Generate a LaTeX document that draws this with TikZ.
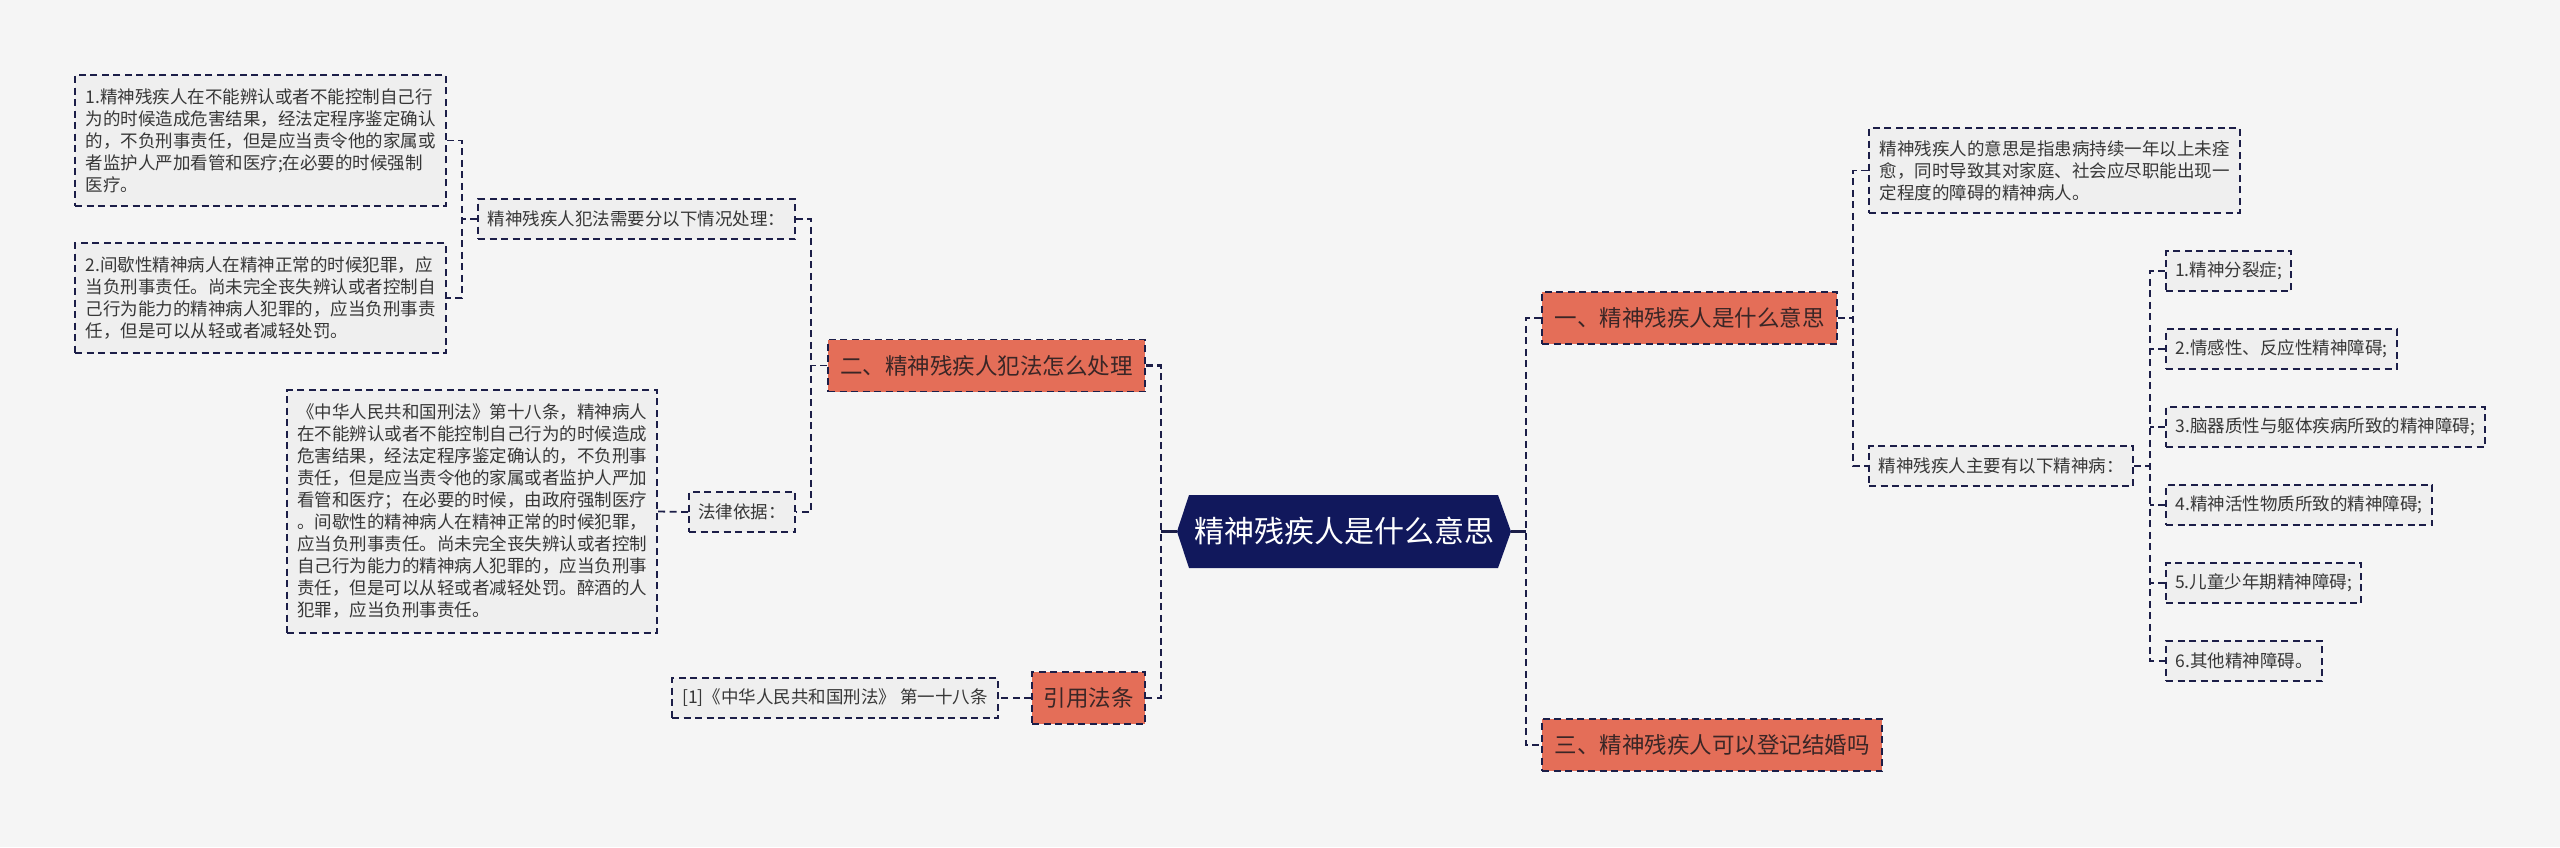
\documentclass[tikz,border=0pt]{standalone}
\usepackage{fontspec}
\setmainfont{Noto Sans CJK SC}
\usetikzlibrary{calc}
\definecolor{bg}{RGB}{245,245,245}
\definecolor{boxfill}{RGB}{239,239,239}
\definecolor{lineclr}{RGB}{28,30,72}
\definecolor{orangefill}{RGB}{228,110,88}
\definecolor{navyfill}{RGB}{17,24,92}
\definecolor{txt}{RGB}{55,55,55}
\definecolor{orangetxt}{RGB}{58,38,38}
\tikzset{
  textbox/.style={draw=lineclr, line width=1.8pt, dash pattern=on 7pt off 4.5pt, fill=boxfill, text=txt,
    font=\fontsize{17.5}{22}\selectfont, align=left, inner sep=0pt},
  topicbox/.style={draw=lineclr, line width=1.8pt, dash pattern=on 7pt off 4.5pt, fill=orangefill, text=orangetxt,
    font=\fontsize{22.5}{26}\selectfont, inner sep=0pt, minimum height=52pt},
  conn/.style={draw=lineclr, line width=1.8pt, dash pattern=on 7pt off 4.5pt},
  trunk/.style={draw=lineclr, line width=2.6pt, dash pattern=on 7pt off 4.5pt},
  stub/.style={draw=lineclr, line width=2.6pt},
}
\begin{document}
\begin{tikzpicture}[x=1pt,y=-1pt]
\useasboundingbox (0,0) rectangle (2560,847);
\fill[bg] (0,0) rectangle (2560,847);

% central hexagon
\fill[navyfill] (1189,495) -- (1498,495) -- (1511,531.5) -- (1498,568) -- (1189,568) -- (1177,531.5) -- cycle;
\node[text=white, font=\fontsize{30}{34}\selectfont, minimum width=334pt, minimum height=73pt, inner sep=0pt] (C) at (1344,531.5) {精神残疾人是什么意思};

% left branch
\node[topicbox, minimum width=317pt] (N2) at (986.5,365.5) {二、精神残疾人犯法怎么处理};
\node[topicbox, minimum width=113pt] (N4) at (1088.5,698) {引用法条};
\node[textbox, minimum width=317pt, minimum height=40pt] (B1) at (636.5,219) {精神残疾人犯法需要分以下情况处理：};
\node[textbox, minimum width=371pt, minimum height=131pt] (A1) at (260.5,140.5) {1.精神残疾人在不能辨认或者不能控制自己行\\为的时候造成危害结果，经法定程序鉴定确认\\的，不负刑事责任，但是应当责令他的家属或\\者监护人严加看管和医疗;在必要的时候强制\\医疗。};
\node[textbox, minimum width=371pt, minimum height=110pt] (A2) at (260.5,298) {2.间歇性精神病人在精神正常的时候犯罪，应\\当负刑事责任。尚未完全丧失辨认或者控制自\\己行为能力的精神病人犯罪的，应当负刑事责\\任，但是可以从轻或者减轻处罚。};
\node[textbox, minimum width=106pt, minimum height=40pt] (LB) at (742,512) {法律依据：};
\node[textbox, minimum width=370pt, minimum height=243pt] (L) at (472,511.5) {《中华人民共和国刑法》第十八条，精神病人\\在不能辨认或者不能控制自己行为的时候造成\\危害结果，经法定程序鉴定确认的，不负刑事\\责任，但是应当责令他的家属或者监护人严加\\看管和医疗；在必要的时候，由政府强制医疗\\。间歇性的精神病人在精神正常的时候犯罪，\\应当负刑事责任。尚未完全丧失辨认或者控制\\自己行为能力的精神病人犯罪的，应当负刑事\\责任，但是可以从轻或者减轻处罚。醉酒的人\\犯罪，应当负刑事责任。};
\node[textbox, minimum width=326pt, minimum height=40pt] (R1) at (835,698) {[1]《中华人民共和国刑法》 第一十八条};

% right branch
\node[topicbox, minimum width=295pt] (N1) at (1689.5,318) {一、精神残疾人是什么意思};
\node[topicbox, minimum width=340pt] (N3) at (1712,745) {三、精神残疾人可以登记结婚吗};
\node[textbox, minimum width=371pt, minimum height=85pt] (C1) at (2054.5,170.5) {精神残疾人的意思是指患病持续一年以上未痊\\愈，同时导致其对家庭、社会应尽职能出现一\\定程度的障碍的精神病人。};
\node[textbox, minimum width=264pt, minimum height=40pt] (C2) at (2001,466) {精神残疾人主要有以下精神病：};
\node[textbox, minimum width=125pt, minimum height=40pt] (D1) at (2228.5,271) {1.精神分裂症;};
\node[textbox, minimum width=231pt, minimum height=40pt] (D2) at (2281.5,349) {2.情感性、反应性精神障碍;};
\node[textbox, minimum width=319pt, minimum height=40pt] (D3) at (2325.5,427) {3.脑器质性与躯体疾病所致的精神障碍;};
\node[textbox, minimum width=266pt, minimum height=40pt] (D4) at (2299,505) {4.精神活性物质所致的精神障碍;};
\node[textbox, minimum width=195pt, minimum height=40pt] (D5) at (2263.5,583) {5.儿童少年期精神障碍;};
\node[textbox, minimum width=156pt, minimum height=40pt] (D6) at (2244,661) {6.其他精神障碍。};

% junctions
\coordinate (jl) at (1161,531.5);
\coordinate (jr) at (1526,531.5);
\coordinate (j2) at (811,365.5);
\coordinate (j1) at (462,219);
\coordinate (j3) at (1853,318);
\coordinate (j4) at (2150,466);

% connectors
\draw[stub] (C.west) -- (jl);
\draw[stub] (C.east) -- (jr);
\draw[trunk] (N2.east) -| (jl) |- (N4.east);
\draw[trunk] (N1.west) -| (jr) |- (N3.west);

\draw[conn] (N2.west) -- (j2);
\draw[conn] (B1.east) -| (j2) |- (LB.east);
\draw[conn] (B1.west) -- (j1);
\draw[conn] (A1.east) -| (j1) |- (A2.east);
\draw[conn] (LB.west) -- (L.east);
\draw[conn] (N4.west) -- (R1.east);

\draw[conn] (N1.east) -- (j3);
\draw[conn] (C1.west) -| (j3) |- (C2.west);
\draw[conn] (C2.east) -- (j4);
\draw[conn] (D1.west) -| (j4) |- (D6.west);
\draw[conn] (D2.west) -- (D2.west -| j4);
\draw[conn] (D3.west) -- (D3.west -| j4);
\draw[conn] (D4.west) -- (D4.west -| j4);
\draw[conn] (D5.west) -- (D5.west -| j4);
\end{tikzpicture}
\end{document}
